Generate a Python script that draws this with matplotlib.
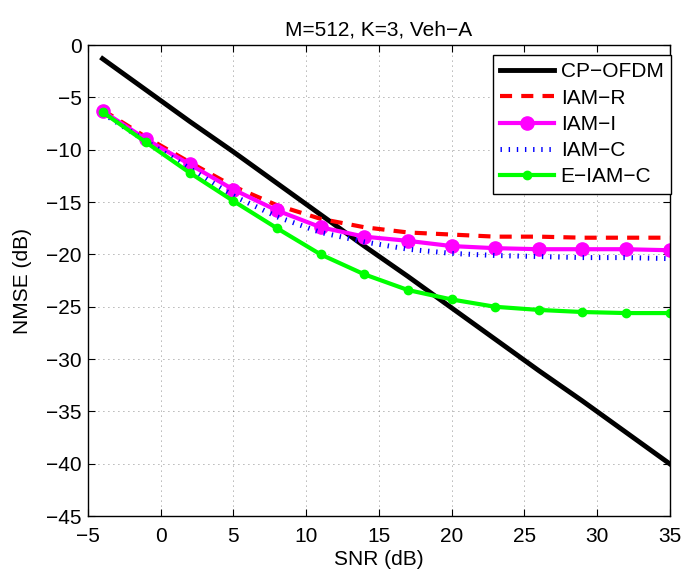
import matplotlib
matplotlib.use("Agg")
import matplotlib.pyplot as plt

plt.rcParams['font.family'] = ['Liberation Sans', 'DejaVu Sans']
plt.rcParams['axes.unicode_minus'] = True

snr = [-4, -1, 2, 5, 8, 11, 14, 17, 20, 23, 26, 29, 32, 35]
cp_ofdm = [-1.3, -4.3, -7.3, -10.2, -13.2, -16.2, -19.2, -22.1, -25.1, -28.1, -31.1, -34.0, -37.0, -40.0]
iam_r = [-6.2, -8.8, -11.2, -13.5, -15.3, -16.6, -17.4, -17.9, -18.1, -18.3, -18.3, -18.4, -18.4, -18.4]
iam_i = [-6.3, -9.0, -11.4, -13.8, -15.8, -17.4, -18.3, -18.7, -19.2, -19.4, -19.5, -19.5, -19.5, -19.6]
iam_c = [-6.5, -9.2, -11.8, -14.4, -16.4, -17.9, -18.8, -19.5, -19.9, -20.1, -20.2, -20.3, -20.3, -20.4]
e_iam_c = [-6.4, -9.3, -12.2, -14.9, -17.5, -20.0, -21.9, -23.4, -24.3, -25.0, -25.3, -25.5, -25.6, -25.6]

xticks = [-5, 0, 5, 10, 15, 20, 25, 30, 35]
yticks = [0, -5, -10, -15, -20, -25, -30, -35, -40, -45]

fig = plt.figure(figsize=(6.82, 5.78), dpi=100)
ax = fig.add_axes([0.129, 0.107, 0.853, 0.815])

ax.plot(snr, cp_ofdm, color='black', lw=3.5, label='CP\u2212OFDM')
ax.plot(snr, iam_r, color='red', lw=3.0, dashes=(2.9, 2.2), label='IAM\u2212R')
ax.plot(snr, iam_i, color='magenta', lw=3.0, marker='o', ms=9.5, label='IAM\u2212I')
ax.plot(snr, iam_c, color='blue', lw=3.6, dashes=(0.28, 1.35), dash_capstyle='butt', label='IAM\u2212C')
ax.plot(snr, e_iam_c, color='#00ff00', lw=3.0, marker='o', ms=6, label='E\u2212IAM\u2212C')

ax.set_xlim(-5, 35)
ax.set_ylim(-45, 0)
ax.set_xticks(xticks)
ax.set_yticks(yticks)
ax.tick_params(direction='in', top=True, right=True, labelsize=15, length=5, width=0.8)
ax.tick_params(axis='x', pad=8)
ax.tick_params(axis='y', pad=4.5)
ax.grid(True, linestyle=(0, (1, 5)), color='black', lw=0.6, alpha=0.6)
for s in ax.spines.values():
    s.set_linewidth(1.0)

ax.set_xlabel('SNR (dB)', fontsize=15, labelpad=3)
ax.set_ylabel('NMSE (dB)', fontsize=15, labelpad=10)
ax.set_title('M=512, K=3, Veh\u2212A', fontsize=15, pad=7)

leg = ax.legend(loc='upper right', bbox_to_anchor=(1.002, 0.979), fontsize=15,
                fancybox=False, framealpha=1, edgecolor='black', handlelength=2.6,
                borderaxespad=0, labelspacing=0.35, handletextpad=0.3, borderpad=0.35)
leg.get_frame().set_linewidth(1.0)

fig.savefig('out.png', dpi=100)
